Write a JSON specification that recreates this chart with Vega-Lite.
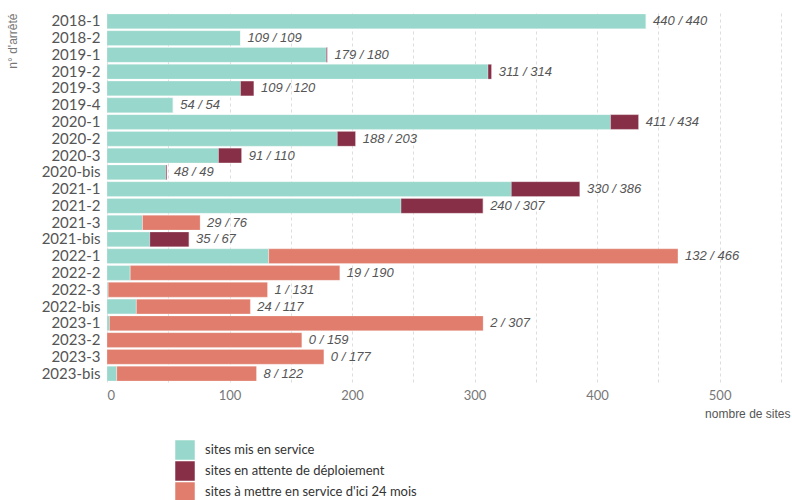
{
  "$schema": "https://vega.github.io/schema/vega-lite/v6.json",
  "width": 680,
  "height": 369,
  "autosize": {"type": "none"},
  "padding": {"left": 107, "top": 13, "right": 5, "bottom": 118},
  "background": "white",
  "config": {"view": {"stroke": null}},
  "data": {
    "values": [
      {"arrete": "2018-1", "service": 440, "attente": 0, "amettre": 0, "total": 440, "label": "440 / 440"},
      {"arrete": "2018-2", "service": 109, "attente": 0, "amettre": 0, "total": 109, "label": "109 / 109"},
      {"arrete": "2019-1", "service": 179, "attente": 1, "amettre": 0, "total": 180, "label": "179 / 180"},
      {"arrete": "2019-2", "service": 311, "attente": 3, "amettre": 0, "total": 314, "label": "311 / 314"},
      {"arrete": "2019-3", "service": 109, "attente": 11, "amettre": 0, "total": 120, "label": "109 / 120"},
      {"arrete": "2019-4", "service": 54, "attente": 0, "amettre": 0, "total": 54, "label": "54 /  54"},
      {"arrete": "2020-1", "service": 411, "attente": 23, "amettre": 0, "total": 434, "label": "411 / 434"},
      {"arrete": "2020-2", "service": 188, "attente": 15, "amettre": 0, "total": 203, "label": "188 / 203"},
      {"arrete": "2020-3", "service": 91, "attente": 19, "amettre": 0, "total": 110, "label": "91 / 110"},
      {"arrete": "2020-bis", "service": 48, "attente": 1, "amettre": 0, "total": 49, "label": "48 /  49"},
      {"arrete": "2021-1", "service": 330, "attente": 56, "amettre": 0, "total": 386, "label": "330 / 386"},
      {"arrete": "2021-2", "service": 240, "attente": 67, "amettre": 0, "total": 307, "label": "240 / 307"},
      {"arrete": "2021-3", "service": 29, "attente": 0, "amettre": 47, "total": 76, "label": "29 /  76"},
      {"arrete": "2021-bis", "service": 35, "attente": 32, "amettre": 0, "total": 67, "label": "35 /  67"},
      {"arrete": "2022-1", "service": 132, "attente": 0, "amettre": 334, "total": 466, "label": "132 / 466"},
      {"arrete": "2022-2", "service": 19, "attente": 0, "amettre": 171, "total": 190, "label": "19 / 190"},
      {"arrete": "2022-3", "service": 1, "attente": 0, "amettre": 130, "total": 131, "label": "1 / 131"},
      {"arrete": "2022-bis", "service": 24, "attente": 0, "amettre": 93, "total": 117, "label": "24 / 117"},
      {"arrete": "2023-1", "service": 2, "attente": 0, "amettre": 305, "total": 307, "label": "2 / 307"},
      {"arrete": "2023-2", "service": 0, "attente": 0, "amettre": 159, "total": 159, "label": "0 / 159"},
      {"arrete": "2023-3", "service": 0, "attente": 0, "amettre": 177, "total": 177, "label": "0 / 177"},
      {"arrete": "2023-bis", "service": 8, "attente": 0, "amettre": 114, "total": 122, "label": "8 / 122"}
    ]
  },
  "encoding": {
    "y": {
      "field": "arrete",
      "type": "nominal",
      "sort": null,
      "scale": {"paddingInner": 0.12, "paddingOuter": 0.06},
      "axis": {
        "title": "n° d'arrêté",
        "titleFont": "Liberation Sans",
        "titleFontSize": 12,
        "titleFontWeight": "normal",
        "titleColor": "#777777",
        "titleAngle": -90,
        "titleAlign": "right",
        "titleBaseline": "top",
        "titleX": -100,
        "titleY": 0,
        "labelFont": "Lato",
        "labelFontSize": 15,
        "labelColor": "#555555",
        "labelPadding": 7,
        "ticks": false,
        "domain": false,
        "grid": false
      }
    }
  },
  "layer": [
    {
      "transform": [
        {"fold": ["service", "attente", "amettre"], "as": ["statut", "n"]}
      ],
      "mark": {"type": "bar", "stroke": "#ffffff", "strokeOpacity": 0.5, "strokeWidth": 0.5},
      "encoding": {
        "x": {
          "field": "n",
          "type": "quantitative",
          "stack": "zero",
          "scale": {"domain": [0, 555], "nice": false},
          "axis": {
            "values": [0, 50, 100, 150, 200, 250, 300, 350, 400, 450, 500, 550],
            "labelExpr": "datum.value % 100 == 0 && datum.value <= 500 ? datum.label : ''",
            "grid": true,
            "gridDash": [3, 3],
            "gridColor": "#dddddd",
            "ticks": false,
            "domain": false,
            "labelFont": "Lato",
            "labelFontSize": 13,
            "labelColor": "#777777",
            "labelPadding": 7,
            "title": "nombre de sites",
            "titleFont": "Liberation Sans",
            "titleFontSize": 12,
            "titleFontWeight": "normal",
            "titleColor": "#555555",
            "titleAnchor": null,
            "titleAlign": "right",
            "titleBaseline": "middle",
            "titleX": 683,
            "titleY": 31
          }
        },
        "color": {
          "field": "statut",
          "type": "nominal",
          "scale": {
            "domain": ["service", "attente", "amettre"],
            "range": ["#98d7cb", "#862f47", "#e07d6d"]
          },
          "legend": {
            "title": null,
            "orient": "none",
            "legendX": 68,
            "legendY": 427,
            "direction": "vertical",
            "symbolType": "square",
            "symbolSize": 380,
            "symbolStrokeWidth": 0,
            "symbolOpacity": 1,
            "rowPadding": 1,
            "labelFont": "Lato",
            "labelFontSize": 13,
            "labelColor": "#333333",
            "labelOffset": 10,
            "labelLimit": 0,
            "labelExpr": "datum.label == 'service' ? 'sites mis en service' : datum.label == 'attente' ? 'sites en attente de déploiement' : \"sites à mettre en service d'ici 24 mois\""
          }
        },
        "order": {"field": "statut", "sort": "descending"}
      }
    },
    {
      "mark": {
        "type": "text",
        "align": "left",
        "baseline": "middle",
        "dx": 7,
        "font": "Liberation Sans",
        "fontStyle": "italic",
        "fontSize": 13,
        "color": "#555555"
      },
      "encoding": {
        "x": {"field": "total", "type": "quantitative"},
        "text": {"field": "label"}
      }
    }
  ]
}
